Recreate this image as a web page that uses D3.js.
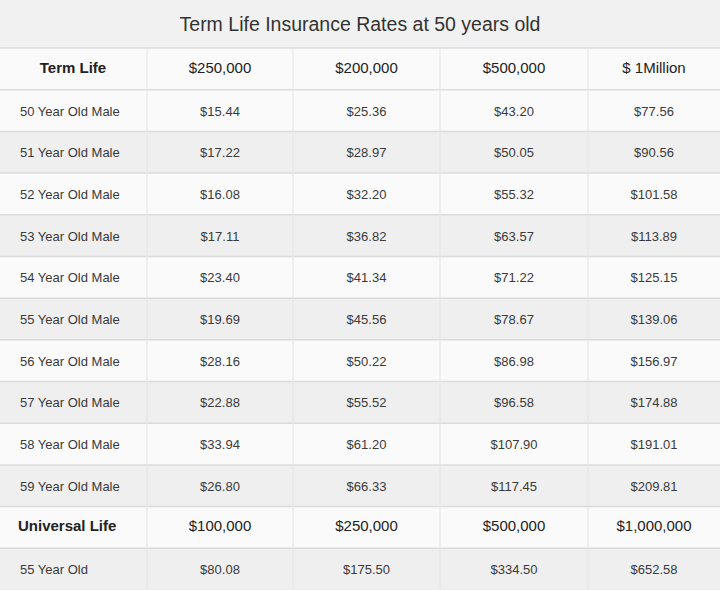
<!DOCTYPE html>
<html><head><meta charset="utf-8">
<script src="https://cdn.jsdelivr.net/npm/d3@7"></script>
<style>body{margin:0;background:#fff}</style>
</head><body>
<script>
const title = "Term Life Insurance Rates at 50 years old";
const termHeader = ["Term Life", "$250,000", "$200,000", "$500,000", "$ 1Million"];
const termRows = ["50 Year Old Male","51 Year Old Male","52 Year Old Male","53 Year Old Male","54 Year Old Male","55 Year Old Male","56 Year Old Male","57 Year Old Male","58 Year Old Male","59 Year Old Male"];
const col250k = ["$15.44","$17.22","$16.08","$17.11","$23.40","$19.69","$28.16","$22.88","$33.94","$26.80"];
const col200k = ["$25.36","$28.97","$32.20","$36.82","$41.34","$45.56","$50.22","$55.52","$61.20","$66.33"];
const col500k = ["$43.20","$50.05","$55.32","$63.57","$71.22","$78.67","$86.98","$96.58","$107.90","$117.45"];
const col1m = ["$77.56","$90.56","$101.58","$113.89","$125.15","$139.06","$156.97","$174.88","$191.01","$209.81"];
const ulHeader = ["Universal Life", "$100,000", "$250,000", "$500,000", "$1,000,000"];
const ulRow = ["55 Year Old", "$80.08", "$175.50", "$334.50", "$652.58"];

const rows = [{cells: termHeader, header: true}];
termRows.forEach((r,i)=>rows.push({cells:[r,col250k[i],col200k[i],col500k[i],col1m[i]]}));
rows.push({cells: ulHeader, header: true});
rows.push({cells: ulRow});

const W=720,H=591;
const svg=d3.select("body").append("svg").attr("width",W).attr("height",H)
  .style("font-family","'Liberation Sans', Arial, sans-serif");
svg.append("rect").attr("width",W).attr("height",48).attr("fill","#f1f1f1");
svg.append("text").attr("x",W/2).attr("y",31).attr("text-anchor","middle")
  .attr("font-size",19.5).attr("fill","#333").text(title);

const y=d3.scaleBand().domain(d3.range(rows.length)).range([48,590]);
const colX=[0,147,293,440,588,720];

const g=svg.selectAll("g.row").data(rows).join("g").attr("transform",(d,i)=>`translate(0,${y(i)})`);
g.append("rect").attr("width",W).attr("height",y.bandwidth())
  .attr("fill",(d,i)=> d.header? "#fafafa" : (i%2===0 ? "#efefef" : "#fafafa"));
g.append("line").attr("x1",0).attr("x2",W).attr("y1",0).attr("y2",0).attr("stroke","#dcdcdc").attr("stroke-width",1.5);
g.selectAll("text").data(d=>d.cells.map((c,j)=>({c,j,h:d.header}))).join("text")
  .attr("x",d=> d.j===0 ? (d.h && d.c==="Term Life" ? 73 : (d.h?18:20)) : (colX[d.j]+colX[d.j+1])/2)
  .attr("text-anchor",d=> d.j===0 && !(d.h && d.c==="Term Life") ? "start":"middle")
  .attr("y",d=>y.bandwidth()/2+ (d.h?4:5))
  .attr("font-size",d=>d.h?15:13)
  .attr("font-weight",d=>d.h&&d.j===0?"bold":"normal")
  .attr("fill",d=>d.h?"#222":"#3a3a3a")
  .text(d=>d.c);
colX.slice(1,5).forEach(cx=>svg.append("line").attr("x1",cx).attr("x2",cx).attr("y1",48).attr("y2",590).attr("stroke","#e4e4e4"));
</script>
</body></html>
